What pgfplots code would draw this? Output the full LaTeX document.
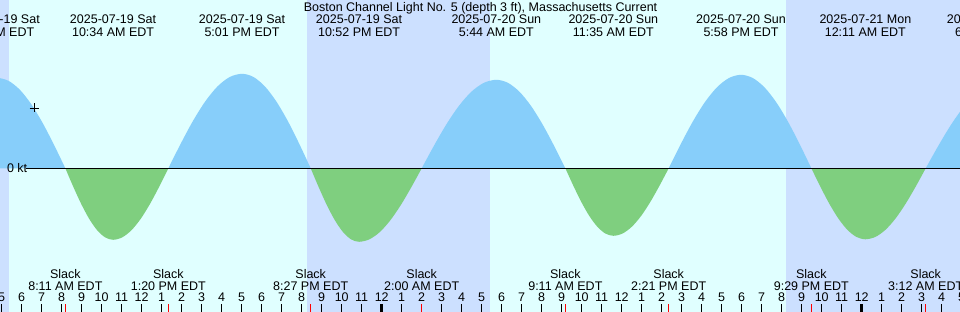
\documentclass[border=0pt]{standalone}
\usepackage{fontspec}
\setmainfont{Liberation Sans}
\usepackage{pgfplots}
\pgfplotsset{compat=1.18}
\definecolor{day}{RGB}{224,255,255}
\definecolor{night}{RGB}{204,224,255}
\definecolor{flood}{RGB}{135,206,250}
\definecolor{ebb}{RGB}{127,207,127}
\begin{document}
\fontsize{12.5bp}{15bp}\selectfont
\begin{tikzpicture}[font=\fontsize{12.5bp}{15bp}\selectfont]
\begin{axis}[
  scale only axis, width=960bp, height=312bp,
  xmin=4.915, xmax=52.915, ymin=-2.874, ymax=3.366,
  hide axis, clip=true,
  every node/.append style={font=\fontsize{12.5bp}{15bp}\selectfont, inner sep=0pt},
]
% background: day and night
\fill[day] (axis cs:0,-5) rectangle (axis cs:60,5);
\fill[night] (axis cs:0,-5) rectangle (axis cs:5.35,5);
\fill[night] (axis cs:20.25,-5) rectangle (axis cs:29.4,5);
\fill[night] (axis cs:44.22,-5) rectangle (axis cs:60,5);

% flood (blue) and ebb (green) lobes, knots vs hours after 2025-07-19 00:00 EDT
\addplot[fill=flood, draw=none, smooth] coordinates {
 (4.4,0) (4.4,1.78) (4.78,1.81) (5.347,1.748) (5.914,1.568) (6.482,1.280) (7.049,0.905) (7.616,0.468) (8.183,0)} \closedcycle;
\addplot[fill=ebb, draw=none, smooth] coordinates {
 (8.183,0) (8.580,-0.370) (8.978,-0.715) (9.375,-1.011) (9.772,-1.238) (10.170,-1.381) (10.567,-1.43)
 (11.028,-1.381) (11.489,-1.238) (11.950,-1.011) (12.411,-0.715) (12.872,-0.370) (13.333,0)} \closedcycle;
\addplot[fill=flood, draw=none, smooth] coordinates {
 (13.333,0) (13.947,0.489) (14.561,0.945) (15.175,1.336) (15.789,1.637) (16.403,1.826) (17.017,1.89)
 (17.589,1.826) (18.161,1.637) (18.733,1.336) (19.306,0.945) (19.878,0.489) (20.45,0)} \closedcycle;
\addplot[fill=ebb, draw=none, smooth] coordinates {
 (20.45,0) (20.853,-0.380) (21.256,-0.735) (21.659,-1.039) (22.061,-1.273) (22.464,-1.420) (22.867,-1.47)
 (23.389,-1.420) (23.911,-1.273) (24.433,-1.039) (24.956,-0.735) (25.478,-0.380) (26.0,0)} \closedcycle;
\addplot[fill=flood, draw=none, smooth] coordinates {
 (26.0,0) (26.622,0.458) (27.244,0.885) (27.867,1.252) (28.489,1.533) (29.111,1.710) (29.733,1.77)
 (30.308,1.710) (30.883,1.533) (31.458,1.252) (32.033,0.885) (32.608,0.458) (33.183,0)} \closedcycle;
\addplot[fill=ebb, draw=none, smooth] coordinates {
 (33.183,0) (33.583,-0.349) (33.983,-0.675) (34.383,-0.955) (34.783,-1.169) (35.183,-1.304) (35.583,-1.35)
 (36.044,-1.304) (36.505,-1.169) (36.967,-0.955) (37.428,-0.675) (37.889,-0.349) (38.35,0)} \closedcycle;
\addplot[fill=flood, draw=none, smooth] coordinates {
 (38.35,0) (38.953,0.484) (39.556,0.935) (40.158,1.322) (40.761,1.619) (41.364,1.806) (41.967,1.87)
 (42.553,1.806) (43.139,1.619) (43.725,1.322) (44.311,0.935) (44.897,0.484) (45.483,0)} \closedcycle;
\addplot[fill=ebb, draw=none, smooth] coordinates {
 (45.483,0) (45.933,-0.368) (46.383,-0.710) (46.833,-1.004) (47.283,-1.230) (47.733,-1.372) (48.183,-1.42)
 (48.686,-1.372) (49.189,-1.230) (49.691,-1.004) (50.194,-0.710) (50.697,-0.368) (51.2,0)} \closedcycle;
\addplot[fill=flood, draw=none, smooth] coordinates {
 (51.2,0) (51.817,0.440) (52.433,0.85) (53.05,1.202) (53.667,1.472) (53.667,0)} \closedcycle;

% zero line and label
\draw[black, line width=1.3bp] (axis cs:6.215,0) -- (axis cs:60,0);
\node[anchor=base west] at (axis cs:5.05,-0.088) {0 kt};

% current-time marker
\addplot[only marks, mark=+, mark size=4.5bp, black, line width=0.9bp] coordinates {(6.615,1.206)};

% title
\node[anchor=base] at (axis cs:28.94,3.126) {Boston Channel Light No. 5 (depth 3 ft), Massachusetts Current};

% max / min labels
\foreach \h/\d/\t in {4.75/2025-07-19 Sat/4:45 AM EDT, 10.567/2025-07-19 Sat/10:34 AM EDT,
  17.017/2025-07-19 Sat/5:01 PM EDT, 22.867/2025-07-19 Sat/10:52 PM EDT,
  29.733/2025-07-20 Sun/5:44 AM EDT, 35.583/2025-07-20 Sun/11:35 AM EDT,
  41.967/2025-07-20 Sun/5:58 PM EDT, 48.183/2025-07-21 Mon/12:11 AM EDT,
  54.55/2025-07-21 Mon/6:33 AM EDT} {
  \edef\tmp{\noexpand\node[anchor=base] at (axis cs:\h,2.886) {\d};
    \noexpand\node[anchor=base] at (axis cs:\h,2.632) {\t};}
  \tmp
}

% slack labels
\foreach \h/\t in {8.183/8:11 AM EDT, 13.333/1:20 PM EDT, 20.45/8:27 PM EDT, 26.0/2:00 AM EDT,
  33.183/9:11 AM EDT, 38.35/2:21 PM EDT, 45.483/9:29 PM EDT, 51.2/3:12 AM EDT} {
  \edef\tmp{\noexpand\node[anchor=base] at (axis cs:\h,-2.2) {Slack};
    \noexpand\node[anchor=base] at (axis cs:\h,-2.434) {\t};}
  \tmp
}

% hour ticks and labels
\pgfplotsinvokeforeach{5,...,53}{
  \draw[black, line width=1bp] (axis cs:#1,-2.72) -- (axis cs:#1,-3.0);
  \node[anchor=base] at (axis cs:#1,-2.668) {\pgfmathparse{int(mod(#1-1,12)+1)}\pgfmathresult};
}
\draw[black, line width=3bp] (axis cs:24,-2.72) -- (axis cs:24,-3.0);
\draw[black, line width=3bp] (axis cs:48,-2.72) -- (axis cs:48,-3.0);
\foreach \h in {8.183,13.333,20.45,26.0,33.183,38.35,45.483,51.2} {
  \edef\tmp{\noexpand\draw[red, line width=1bp] (axis cs:\h,-2.72) -- (axis cs:\h,-3.0);}
  \tmp
}
\end{axis}
\pgfresetboundingbox
\path[use as bounding box] (current axis.south west) rectangle (current axis.north east);
\end{tikzpicture}
\end{document}
